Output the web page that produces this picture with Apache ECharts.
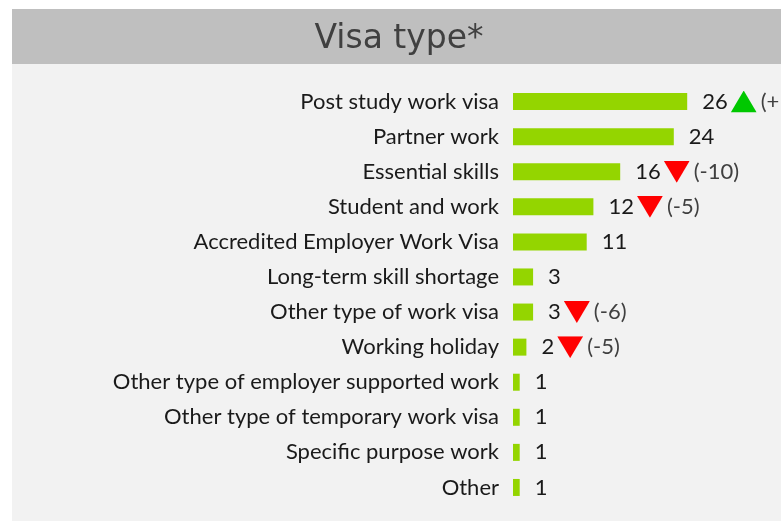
<!DOCTYPE html>
<html>
<head>
<meta charset="utf-8">
<script src="https://cdn.jsdelivr.net/npm/echarts@6/dist/echarts.min.js"></script>
<style>
  html, body { margin: 0; padding: 0; background: #fff; }
  #chart { width: 781px; height: 521px; }
</style>
</head>
<body>
<div id="chart"></div>
<script>
const categories = [
  'Post study work visa', 'Partner work', 'Essential skills', 'Student and work',
  'Accredited Employer Work Visa', 'Long-term skill shortage', 'Other type of work visa',
  'Working holiday', 'Other type of employer supported work',
  'Other type of temporary work visa', 'Specific purpose work', 'Other'
];
const counts = [26, 24, 16, 12, 11, 3, 3, 2, 1, 1, 1, 1];
// change vs previous period, null = no marker shown
const changes = ['+11', null, '-10', '-5', null, null, '-6', '-5', null, null, null, null];

const FONT = 'Lato';
const svgTri = (pts, fill) => 'data:image/svg+xml;charset=utf-8,' + encodeURIComponent(
  `<svg xmlns="http://www.w3.org/2000/svg" width="26" height="22"><polygon points="${pts}" fill="${fill}"/></svg>`);
const upImg = svgTri('13,0 26,22 0,22', '#00c800');
const downImg = svgTri('0,0 26,0 13,22', '#ff0000');

const chart = echarts.init(document.getElementById('chart'));

chart.setOption({
  backgroundColor: '#fff',
  animation: false,
  graphic: [
    { type: 'rect', z: -10, shape: { x: 12, y: 64, width: 781, height: 470 }, style: { fill: '#f2f2f2' } },
    { type: 'rect', z: -10, shape: { x: 12, y: 9, width: 781, height: 55 }, style: { fill: '#bfbfbf' } }
  ],
  title: {
    text: 'Visa type*',
    left: 394,
    top: 18,
    textAlign: 'center',
    textStyle: { fontFamily: 'DejaVu Sans', fontSize: 33, fontWeight: 'normal', color: '#404040' }
  },
  grid: { left: 513, right: 0, top: 84, height: 421 },
  xAxis: { type: 'value', min: 0, max: 40, show: false },
  yAxis: {
    type: 'category',
    data: categories,
    inverse: true,
    axisLine: { show: false },
    axisTick: { show: false },
    axisLabel: { margin: 14, fontFamily: FONT, fontSize: 22, color: '#1a1a1a' }
  },
  series: [{
    type: 'bar',
    data: counts,
    barWidth: 17,
    itemStyle: { color: '#94d500' },
    label: {
      show: true,
      position: 'right',
      distance: 15,
      formatter: p => {
        const c = changes[p.dataIndex];
        if (!c) return '{v|' + p.value + '}';
        const tri = c[0] === '+' ? '{up|}' : '{down|}';
        return '{v|' + p.value + '}' + tri + '{c|(' + c + ')}';
      },
      rich: {
        v: { fontFamily: FONT, fontSize: 22, color: '#1a1a1a', padding: [0, 3, 0, 0] },
        up: { width: 26, height: 22, backgroundColor: { image: upImg } },
        down: { width: 26, height: 22, backgroundColor: { image: downImg } },
        c: { fontFamily: FONT, fontSize: 22, color: '#404040', padding: [0, 0, 0, 4] }
      }
    }
  }]
});
</script>
</body>
</html>
